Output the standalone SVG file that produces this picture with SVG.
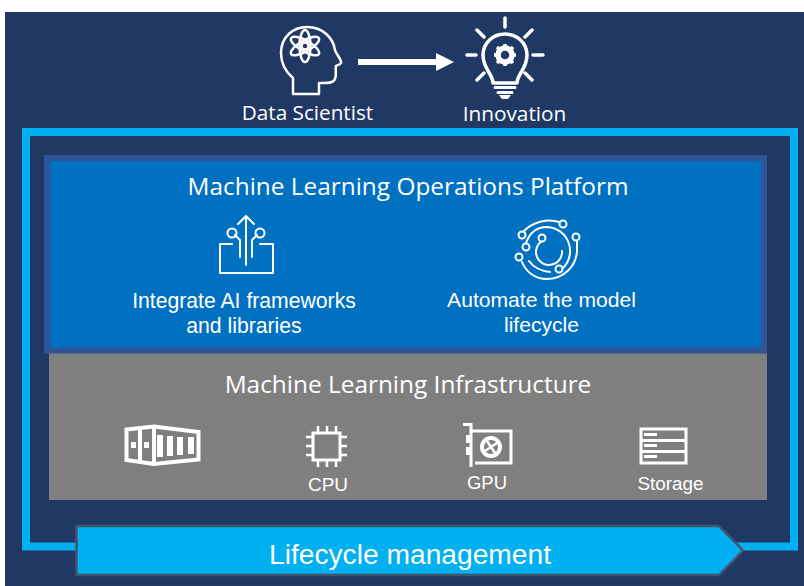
<svg xmlns="http://www.w3.org/2000/svg" width="804" height="586" viewBox="0 0 804 586">
<style>
.ln{fill:none;stroke:#fff;stroke-width:2.500;stroke-linecap:round;stroke-linejoin:round}
.th{fill:none;stroke:#fff;stroke-width:2;stroke-linecap:round;stroke-linejoin:round}
.os{font-family:"Open Sans","Noto Sans",sans-serif;fill:#fff}
.ar{font-family:"Liberation Sans",Arial,sans-serif;fill:#fff}
.m{text-anchor:middle}
</style>
<rect width="804" height="586" fill="#fff"/>
<rect x="5" y="12" width="799" height="574" fill="#1F3864"/>
<g id="frame"><rect x="26" y="132" width="768" height="414.500" fill="none" stroke="#00B0F0" stroke-width="8"/></g>
<g id="infrastructure">
<rect x="49" y="353" width="718" height="147" fill="#7F7F7F"/>
<text class="os m" x="408" y="393" font-size="24.400">Machine Learning Infrastructure</text>
</g>
<g id="platform">
<rect x="47" y="158" width="717" height="192.500" fill="#0070C0" stroke="#2F5597" stroke-width="6"/>
<text class="os m" x="408" y="195" font-size="24.400">Machine Learning Operations Platform</text>
</g>
<g id="data-scientist">
<path class="ln" d="M293 94V78C287 73 281 65 281 53C281 37 293 27 307 27C323 27 333 38 335 50C336 54 342 60 341 63C340 65 337 65 336 66C335 70 337 74 335 79C333 84 325 83 319 83V94Z"/>
<g class="ln" transform="translate(305 46)"><ellipse rx="5.500" ry="16"/><ellipse rx="5.500" ry="16" transform="rotate(60)"/><ellipse rx="5.500" ry="16" transform="rotate(-60)"/><circle r="3.500"/></g>
<text class="os m" x="307.500" y="120" font-size="20.700">Data Scientist</text>
</g>
<g id="innovation">
<path d="M505 18V27M477 30L484 37M532 30L525 37M467 55H476M533 55H543M477 80L484 73M532 80L525 73" fill="none" stroke="#fff" stroke-width="3.500" stroke-linecap="round"/>
<path d="M493 83C493 74 483 69 483 55C483 43 493 34 505 34C517 34 527 43 527 55C527 69 517 74 517 83Z" fill="none" stroke="#fff" stroke-width="3.500" stroke-linejoin="round"/>
<circle cx="505" cy="55" r="7" fill="none" stroke="#fff" stroke-width="5.500"/>
<path d="M505 44V48M505 62V66M494 55H498M512 55H516M497 47L500 50M510 60L513 63M513 47L510 50M500 60L497 63" stroke="#fff" stroke-width="3.500" fill="none"/>
<path d="M495 87.500H515M498 92.500H512" stroke="#fff" stroke-width="3" stroke-linecap="round" fill="none"/>
<path d="M499 95H511L508 99H502Z" fill="#fff"/>
<text class="os m" x="514.500" y="121" font-size="20.800">Innovation</text>
</g>
<g id="integrate">
<path class="th" stroke-linecap="butt" d="M232 244H220V273H273V244H260M246 265V217M238 224L246 216L254 224M240 257V240L235 235M252 257V240L257 235"/>
<circle class="th" cx="232" cy="233" r="4.500"/><circle class="th" cx="260" cy="233" r="4.500"/>
<text class="ar m" x="244" y="308" font-size="21.200">Integrate AI frameworks</text>
<text class="ar m" x="244" y="333" font-size="21.200">and libraries</text>
</g>
<g id="automate">
<path class="th" d="M523 232C532 222 548 218 559 222"/>
<path class="th" d="M526 243C530 232 538 227 547 227A24 24 0 0 1 563 268"/>
<path class="th" d="M577 240V251C576 267 563 279 547 279C535 279 526 272 522 262"/>
<path class="th" d="M529 261C534 268 541 271 550 272"/>
<path class="th" d="M542 241A13 13 0 1 0 562 251"/>
<g fill="#0070C0" stroke="#fff" stroke-width="2"><circle cx="563" cy="224" r="3.500"/><circle cx="522" cy="235" r="3.500"/><circle cx="526" cy="247" r="3.500"/><circle cx="542" cy="238" r="3.500"/><circle cx="576" cy="237" r="3.500"/><circle cx="519" cy="257" r="3.500"/><circle cx="559" cy="269" r="3.500"/></g>
<text class="ar m" x="541.500" y="307" font-size="21.100">Automate the model</text>
<text class="ar m" x="541.500" y="332" font-size="21.100">lifecycle</text>
</g>
<g id="container">
<path d="M126.500 429.500L154 426.500L198.500 432V459.500L154 464L126.500 460Z" fill="none" stroke="#fff" stroke-width="4"/>
<path d="M140 428V462M154 427V464" stroke="#fff" stroke-width="4" fill="none"/>
<path d="M131 442h5v6h-5zM144 442h5v6h-5zM157 435h6v22h-6zM167 436h6v20h-6zM177 437h6v18h-6zM188 437h6v17h-6z" fill="#fff"/>
</g>
<g id="cpu">
<rect x="313" y="433" width="27" height="27" fill="none" stroke="#fff" stroke-width="3"/>
<path d="M318 426V433M327 426V433M336 426V433M318 460V467M327 460V467M336 460V467M306 437H313M306 446H313M306 455H313M340 437H347M340 446H347M340 455H347" stroke="#fff" stroke-width="2.500" fill="none"/>
<text class="ar m" x="328" y="491" font-size="19">CPU</text>
</g>
<g id="gpu">
<path d="M463 424.500H471V467M471 431H511V463H475" fill="none" stroke="#fff" stroke-width="3"/>
<path d="M466 435h4v8h-4zM466 447h4v8h-4z" fill="#fff"/>
<circle cx="491" cy="447" r="9" fill="none" stroke="#fff" stroke-width="4"/>
<path d="M487 441L491 447L485 451M495 453L491 447L497 443" stroke="#fff" stroke-width="2.500" fill="none"/>
<text class="ar m" x="487" y="489" font-size="18.500">GPU</text>
</g>
<g id="storage">
<rect x="641" y="429" width="45" height="34" fill="none" stroke="#fff" stroke-width="3"/>
<path d="M641 440.500H686M641 451.500H686" stroke="#fff" stroke-width="3" fill="none"/>
<path d="M644 433h13v3h-13zM644 444h13v3h-13zM644 455h13v3h-13z" fill="#fff"/>
<text class="ar m" x="670.500" y="490" font-size="18.900">Storage</text>
</g>
<g id="connectors">
<path d="M358 59H436V53L454 62L436 71V65H358Z" fill="#fff"/>
</g>
<g id="lifecycle">
<path d="M76.500 526H719L743 550.500L719 575H76.500Z" fill="#00B0F0" stroke="#44546A" stroke-width="2.500"/>
<text class="ar m" x="410" y="564" font-size="28.200">Lifecycle management</text>
</g>
</svg>
